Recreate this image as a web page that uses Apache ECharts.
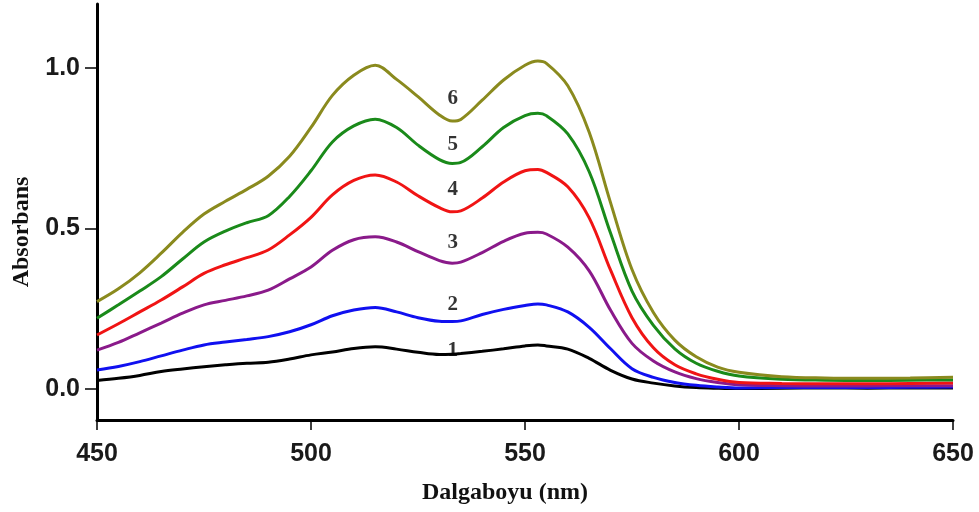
<!DOCTYPE html>
<html>
<head>
<meta charset="utf-8">
<title>Absorbans</title>
<script src="https://cdn.jsdelivr.net/npm/echarts@6/dist/echarts.min.js"></script>
<style>
  html, body { margin: 0; padding: 0; background: #fff; }
  #chart { width: 979px; height: 512px; }
</style>
</head>
<body>
<div id="chart"></div>
<script>
// wavelength (nm)
const wavelengths = [450, 455, 460, 465, 470, 475, 480, 485, 490, 495, 500, 505, 510, 515, 520, 525, 530, 533, 535,
  540, 545, 550, 553, 555, 560, 565, 570, 575, 580, 585, 590, 595, 600, 610, 620, 630, 640, 650]

// absorbance of each spectrum
const curve1 = [0.026, 0.033, 0.042, 0.054, 0.062, 0.069, 0.075, 0.080, 0.083, 0.093, 0.106, 0.115, 0.126, 0.131, 0.124, 0.114, 0.107, 0.108, 0.110,
  0.117, 0.125, 0.134, 0.137, 0.134, 0.124, 0.095, 0.058, 0.031, 0.018, 0.009, 0.004, 0.002, 0.001, 0.002, 0.003, 0.002, 0.003, 0.003]
const curve2 = [0.059, 0.070, 0.085, 0.103, 0.121, 0.137, 0.146, 0.154, 0.163, 0.178, 0.200, 0.228, 0.246, 0.254, 0.240, 0.222, 0.211, 0.210, 0.212,
  0.232, 0.248, 0.260, 0.265, 0.262, 0.240, 0.192, 0.125, 0.063, 0.036, 0.020, 0.011, 0.006, 0.003, 0.004, 0.005, 0.004, 0.005, 0.006]
const curve3 = [0.121, 0.145, 0.175, 0.205, 0.236, 0.262, 0.276, 0.290, 0.308, 0.343, 0.380, 0.432, 0.465, 0.474, 0.458, 0.428, 0.400, 0.392, 0.395,
  0.425, 0.460, 0.485, 0.488, 0.483, 0.442, 0.368, 0.245, 0.142, 0.087, 0.053, 0.032, 0.020, 0.013, 0.010, 0.009, 0.009, 0.010, 0.010]
const curve4 = [0.168, 0.203, 0.240, 0.277, 0.318, 0.360, 0.387, 0.409, 0.433, 0.480, 0.535, 0.605, 0.650, 0.667, 0.645, 0.602, 0.565, 0.552, 0.555,
  0.595, 0.645, 0.680, 0.684, 0.675, 0.630, 0.533, 0.370, 0.222, 0.128, 0.075, 0.047, 0.030, 0.020, 0.017, 0.016, 0.016, 0.017, 0.018]
const curve5 = [0.220, 0.262, 0.305, 0.350, 0.405, 0.458, 0.492, 0.518, 0.540, 0.600, 0.680, 0.770, 0.820, 0.841, 0.815, 0.760, 0.715, 0.703, 0.706,
  0.755, 0.815, 0.852, 0.859, 0.852, 0.795, 0.677, 0.485, 0.305, 0.198, 0.125, 0.080, 0.055, 0.040, 0.030, 0.027, 0.026, 0.027, 0.028]
const curve6 = [0.272, 0.312, 0.362, 0.423, 0.488, 0.545, 0.585, 0.622, 0.663, 0.725, 0.815, 0.915, 0.978, 1.009, 0.965, 0.911, 0.854, 0.835, 0.840,
  0.900, 0.963, 1.009, 1.022, 1.015, 0.945, 0.800, 0.580, 0.372, 0.238, 0.152, 0.100, 0.068, 0.052, 0.038, 0.034, 0.033, 0.034, 0.036]

const curves = [curve1, curve2, curve3, curve4, curve5, curve6]
const colors = ['#000000', '#1010f0', '#8a1a8a', '#f01414', '#1a8a1a', '#8a8a1e']

// curve numbers written between the peaks
const tagNames = ['1', '2', '3', '4', '5', '6']
const tagX = [533.1, 533.1, 533.1, 533.1, 533.1, 533.1]
const tagY = [0.118, 0.262, 0.456, 0.622, 0.762, 0.906]

const yTicks = [0, 0.5, 1.0]

const chart = echarts.init(document.getElementById('chart'))

const lineSeries = curves.map((c, i) => ({
  name: tagNames[i],
  type: 'line',
  data: wavelengths.map((w, k) => [w, c[k]]),
  showSymbol: false,
  smooth: 0.35,
  lineStyle: { color: colors[i], width: 3 },
  itemStyle: { color: colors[i] },
  z: 2 + i
}))

chart.setOption({
  animation: false,
  backgroundColor: '#fff',
  grid: { left: 97, right: 26, top: 4, bottom: 92 },
  xAxis: {
    type: 'value',
    min: 450,
    max: 650,
    interval: 50,
    axisLine: { onZero: false, lineStyle: { color: '#000', width: 3 } },
    axisTick: { length: 10, lineStyle: { color: '#000', width: 1.5 } },
    axisLabel: {
      margin: 22,
      color: '#1a1a1a',
      fontFamily: 'Liberation Sans, Arial, sans-serif',
      fontWeight: 'bold',
      fontSize: 25
    },
    splitLine: { show: false }
  },
  yAxis: {
    type: 'value',
    min: -0.097,
    max: 1.2,
    axisLine: { show: true, onZero: false, lineStyle: { color: '#000', width: 3 } },
    axisTick: { show: true, length: 12, customValues: yTicks, lineStyle: { color: '#000', width: 1.5 } },
    axisLabel: {
      customValues: yTicks,
      formatter: v => v.toFixed(1),
      margin: 17,
      color: '#1a1a1a',
      fontFamily: 'Liberation Sans, Arial, sans-serif',
      fontWeight: 'bold',
      fontSize: 25
    },
    splitLine: { show: false }
  },
  graphic: [
    {
      type: 'text',
      x: 505,
      y: 493,
      style: {
        text: 'Dalgaboyu (nm)',
        font: 'bold 24px "Liberation Serif", "Times New Roman", serif',
        fill: '#111',
        textAlign: 'center',
        textVerticalAlign: 'middle'
      }
    },
    {
      type: 'text',
      x: 22,
      y: 232,
      rotation: Math.PI / 2,
      style: {
        text: 'Absorbans',
        font: 'bold 24px "Liberation Serif", "Times New Roman", serif',
        fill: '#111',
        textAlign: 'center',
        textVerticalAlign: 'middle'
      }
    }
  ],
  series: [
    ...lineSeries,
    {
      type: 'scatter',
      symbolSize: 0,
      data: tagNames.map((n, i) => ({ name: n, value: [tagX[i], tagY[i]] })),
      label: {
        show: true,
        position: 'inside',
        formatter: p => p.name,
        color: '#000',
        textBorderWidth: 0,
        fontFamily: 'Liberation Serif, Times New Roman, serif',
        fontWeight: 'bold',
        fontSize: 21
      },
      z: 10
    }
  ]
})
</script>
</body>
</html>
